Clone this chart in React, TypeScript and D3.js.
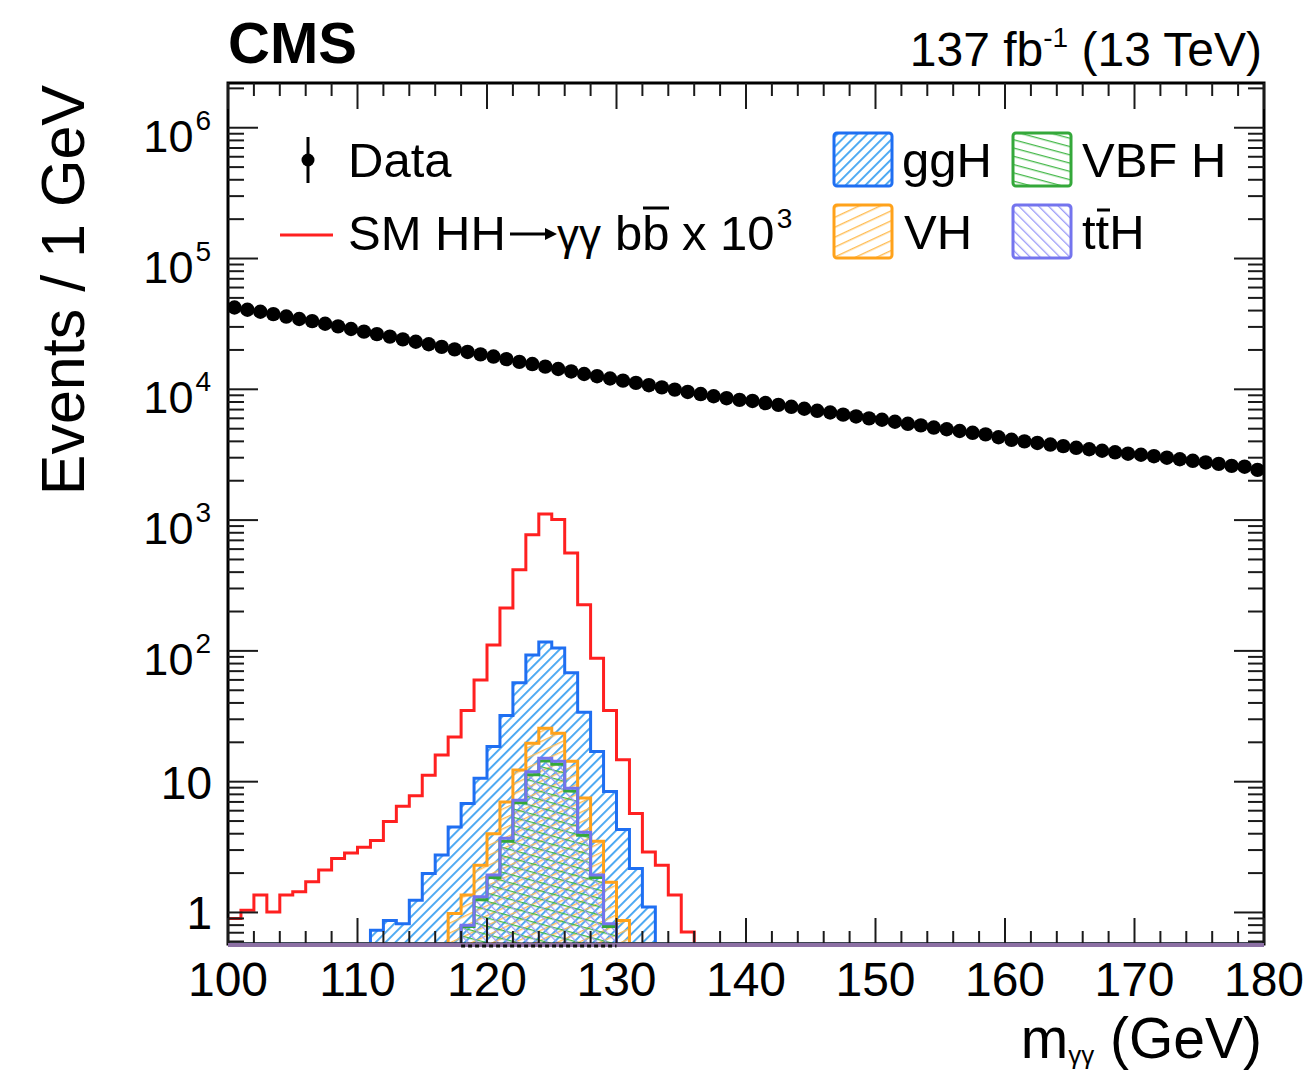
import React from "react";
import * as d3 from "d3";

// ---------- data ----------
const X_MIN = 100;
const X_MAX = 180;
const Y_MIN = 0.574;
const Y_MAX = 2.198e6;

const xTickLabels = ["100", "110", "120", "130", "140", "150", "160", "170", "180"];
const yMajorValues = [1, 10, 100, 1e3, 1e4, 1e5, 1e6];
const yMajorExp = ["", "", "2", "3", "4", "5", "6"];
const yMajorBase = ["1", "10", "10", "10", "10", "10", "10"];

// Data: events per 1 GeV bin, 100..179
const dataCounts = [
  42200, 40600, 39200, 37600, 36000, 34500, 33200, 31700, 30300, 28900,
  27600, 26400, 25300, 24100, 23100, 22100, 21100, 20200, 19300, 18500,
  17800, 17000, 16200, 15600, 14900, 14300, 13700, 13100, 12600, 12100,
  11650, 11200, 10750, 10350, 9950, 9550, 9200, 8850, 8550, 8300,
  8150, 7850, 7600, 7350, 7100, 6850, 6650, 6400, 6200, 6000,
  5850, 5650, 5450, 5300, 5100, 4950, 4800, 4650, 4520, 4300,
  4110, 4000, 3890, 3780, 3680, 3570, 3480, 3390, 3300, 3220,
  3160, 3080, 3000, 2920, 2840, 2760, 2690, 2600, 2560, 2420,
];

// SM HH -> gg bb x 10^3, first bin 100
const hhStart = 100;
const hhValues = [
  0.9, 1.04, 1.36, 1.01, 1.36, 1.44, 1.72, 2.11, 2.59, 2.85,
  3.15, 3.55, 4.95, 6.5, 7.8, 11.2, 16, 22, 35, 60,
  111, 213, 418, 774, 1115, 1010, 561, 225, 88, 35,
  14.7, 5.7, 2.9, 2.3, 1.36, 0.71,
];

const gghStart = 111;
const gghValues = [
  0.73, 0.87, 0.82, 1.24, 1.99, 2.75, 4.5, 6.8, 10.6, 18.6,
  32, 57, 93, 117, 105, 68, 34, 17, 8.4, 4.3, 2.17, 1.1,
];

const vhStart = 117;
const vhValues = [0.98, 1.36, 2.3, 4.0, 7.0, 12.3, 19.7, 25.6, 23.5, 14.3, 7.5, 3.5, 1.7, 0.87];

const vbfStart = 118;
const vbfValues = [0.78, 1.25, 1.85, 3.5, 6.9, 11.3, 14.4, 13.6, 8.5, 3.9, 1.85, 0.78];

const tthStart = 118;
const tthValues = [0.8, 1.32, 1.93, 3.7, 7.2, 11.9, 15.1, 14.3, 8.9, 4.1, 1.93, 0.82];

// ---------- helpers ----------
const NBINS = X_MAX - X_MIN;
function expand(start: number, vals: number[]): number[] {
  const arr = new Array(NBINS).fill(0);
  vals.forEach((v, i) => {
    arr[start - X_MIN + i] = v;
  });
  return arr;
}

const L = 228, R = 1264, T = 83, B = 944;
const FONT = "'Liberation Sans', Arial, Helvetica, sans-serif";

export default function App() {
  const x = d3.scaleLinear().domain([X_MIN, X_MAX]).range([L, R]);
  const y = d3.scaleLog().domain([Y_MIN, Y_MAX]).range([B, T]);

  const stepPts = (arr: number[]): [number, number][] => {
    const pts: [number, number][] = arr.map((v, i) => [X_MIN + i, v]);
    pts.push([X_MAX, arr[arr.length - 1]]);
    return pts;
  };
  const yc = (v: number) => y(Math.max(v, Y_MIN));
  const line = d3
    .line<[number, number]>()
    .x((d) => x(d[0]))
    .y((d) => yc(d[1]))
    .curve(d3.curveStepAfter);
  const area = d3
    .area<[number, number]>()
    .x((d) => x(d[0]))
    .y0(B)
    .y1((d) => yc(d[1]))
    .curve(d3.curveStepAfter);

  const hh = expand(hhStart, hhValues);
  const ggh = expand(gghStart, gghValues);
  const vh = expand(vhStart, vhValues);
  const vbf = expand(vbfStart, vbfValues);
  const tth = expand(tthStart, tthValues);

  const cols = {
    ggh: "#1f6ff2",
    gghHatch: "#46a6f2",
    vh: "#ffa21a",
    vhHatch: "#ffbd55",
    vbf: "#34a83a",
    vbfHatch: "#45b84a",
    tth: "#7474ee",
    tthHatch: "#9a9af8",
    hh: "#ff2020",
  };

  // ticks
  const xMajor = d3.range(X_MIN, X_MAX + 0.1, 10);
  const xMinor = d3.range(X_MIN, X_MAX + 0.1, 2).filter((v) => v % 10 !== 0);
  const yMinor: number[] = [];
  for (let e = -1; e <= 6; e++) {
    for (let k = 2; k <= 9; k++) {
      const v = k * Math.pow(10, e);
      if (v > Y_MIN && v < Y_MAX) yMinor.push(v);
    }
  }
  const tickCol = "#1a1a1a";

  return (
    <div style={{ position: "fixed", left: 0, top: 0 }}>
      <svg width={1306} height={1071} style={{ display: "block", background: "white" }} fontFamily={FONT}>
        <defs>
          <pattern id="pGGH" patternUnits="userSpaceOnUse" width={7} height={7} patternTransform="rotate(45)">
            <line x1={0} y1={0} x2={0} y2={7} stroke={cols.gghHatch} strokeWidth={3.8} />
          </pattern>
          <pattern id="pVH" patternUnits="userSpaceOnUse" width={9} height={9} patternTransform="rotate(-25)">
            <line x1={0} y1={0} x2={9} y2={0} stroke={cols.vhHatch} strokeWidth={2.8} />
          </pattern>
          <pattern id="pVBF" patternUnits="userSpaceOnUse" width={8} height={8} patternTransform="rotate(15)">
            <line x1={0} y1={0} x2={8} y2={0} stroke={cols.vbfHatch} strokeWidth={2.6} />
          </pattern>
          <pattern id="pTTH" patternUnits="userSpaceOnUse" width={7} height={7} patternTransform="rotate(-45)">
            <line x1={0} y1={0} x2={0} y2={7} stroke={cols.tthHatch} strokeWidth={2.6} />
          </pattern>
          <clipPath id="plotClip">
            <rect x={L} y={T} width={R - L} height={B - T + 6} />
          </clipPath>
        </defs>

        {/* histograms */}
        <g clipPath="url(#plotClip)">
          <path d={line(stepPts(hh)) || ""} fill="none" stroke={cols.hh} strokeWidth={3} />
          <path d={area(stepPts(ggh)) || ""} fill="url(#pGGH)" />
          <path d={line(stepPts(ggh)) || ""} fill="none" stroke={cols.ggh} strokeWidth={3} />
          <path d={area(stepPts(vh)) || ""} fill="url(#pVH)" />
          <path d={area(stepPts(vbf)) || ""} fill="url(#pVBF)" />
          <path d={area(stepPts(tth)) || ""} fill="url(#pTTH)" />
          <path d={line(stepPts(vh)) || ""} fill="none" stroke={cols.vh} strokeWidth={3} />
          <path d={line(stepPts(vbf)) || ""} fill="none" stroke={cols.vbf} strokeWidth={3} />
          <path d={line(stepPts(tth)) || ""} fill="none" stroke={cols.tth} strokeWidth={3} />
        </g>

        {/* frame */}
        <rect x={L} y={T} width={R - L} height={B - T} fill="none" stroke="#000" strokeWidth={3} />

        {/* x ticks */}
        {xMajor.map((v) => (
          <g key={"xM" + v}>
            <line x1={x(v)} x2={x(v)} y1={B} y2={B - 26} stroke={tickCol} strokeWidth={2} />
            <line x1={x(v)} x2={x(v)} y1={T} y2={T + 26} stroke={tickCol} strokeWidth={2} />
          </g>
        ))}
        {xMinor.map((v) => (
          <g key={"xm" + v}>
            <line x1={x(v)} x2={x(v)} y1={B} y2={B - 13} stroke={tickCol} strokeWidth={2} />
            <line x1={x(v)} x2={x(v)} y1={T} y2={T + 13} stroke={tickCol} strokeWidth={2} />
          </g>
        ))}
        {/* y ticks */}
        {yMajorValues.map((v) => (
          <g key={"yM" + v}>
            <line x1={L} x2={L + 30} y1={y(v)} y2={y(v)} stroke={tickCol} strokeWidth={2} />
            <line x1={R} x2={R - 30} y1={y(v)} y2={y(v)} stroke={tickCol} strokeWidth={2} />
          </g>
        ))}
        {yMinor.map((v) => (
          <g key={"ym" + v}>
            <line x1={L} x2={L + 16} y1={y(v)} y2={y(v)} stroke={tickCol} strokeWidth={2} />
            <line x1={R} x2={R - 16} y1={y(v)} y2={y(v)} stroke={tickCol} strokeWidth={2} />
          </g>
        ))}

        {/* bottom zero band */}
        <line x1={L} x2={R} y1={B + 1} y2={B + 1} stroke="#8c70a4" strokeWidth={4} />
        <line x1={x(118)} x2={x(130)} y1={B + 2} y2={B + 2} stroke="#111" strokeWidth={3} strokeDasharray="4 3" />

        {/* data points */}
        {dataCounts.map((v, i) => (
          <g key={"d" + i}>
            <line
              x1={x(X_MIN + i + 0.5)}
              x2={x(X_MIN + i + 0.5)}
              y1={y(v + Math.sqrt(v))}
              y2={y(v - Math.sqrt(v))}
              stroke="#000"
              strokeWidth={2}
            />
            <circle cx={x(X_MIN + i + 0.5)} cy={y(v)} r={7.2} fill="#000" />
          </g>
        ))}

        {/* x tick labels */}
        {xTickLabels.map((t, i) => (
          <text key={"xl" + t} x={x(xMajor[i])} y={996} fontSize={48} textAnchor="middle" fill="#000">
            {t}
          </text>
        ))}
        {/* y tick labels */}
        {yMajorValues.map((v, i) =>
          yMajorExp[i] === "" ? (
            <text key={"yl" + v} x={212} y={y(v) + 17} fontSize={46} textAnchor="end" fill="#000">
              {yMajorBase[i]}
            </text>
          ) : (
            <text key={"yl" + v} x={211} y={y(v) + 24} fontSize={45} textAnchor="end" fill="#000">
              <tspan>{yMajorBase[i]}</tspan>
              <tspan dx={2} dy={-22} fontSize={28}>
                {yMajorExp[i]}
              </tspan>
            </text>
          )
        )}

        {/* axis titles */}
        <text transform="translate(84,85) rotate(-90)" fontSize={61} textAnchor="end" fill="#000">
          Events / 1 GeV
        </text>
        <text x={1262} y={1058} fontSize={57} textAnchor="end" fill="#000">
          <tspan>m</tspan>
          <tspan fontSize={26} dy={6}>γγ</tspan>
          <tspan dy={-6}> (GeV)</tspan>
        </text>

        {/* header */}
        <text x={228} y={63} fontSize={58} fontWeight="bold" fill="#000">
          CMS
        </text>
        <text x={1262} y={66} fontSize={48} textAnchor="end" fill="#000">
          <tspan>137 fb</tspan>
          <tspan fontSize={28} dy={-19}>-1</tspan>
          <tspan dy={19}> (13 TeV)</tspan>
        </text>

        {/* legend left */}
        <line x1={308} x2={308} y1={137} y2={183} stroke="#000" strokeWidth={3} />
        <circle cx={308} cy={160} r={6.5} fill="#000" />
        <text x={348} y={177} fontSize={49} fill="#000">
          Data
        </text>
        <line x1={280} x2={333} y1={235} y2={235} stroke={cols.hh} strokeWidth={3} />
        <text y={250} fontSize={49} fill="#000">
          <tspan x={348}>SM HH</tspan>
          <tspan x={557} fontSize={44}>γγ</tspan>
          <tspan x={615}>bb</tspan>
          <tspan x={682}>x 10</tspan>
          <tspan dx={2} dy={-22} fontSize={28}>3</tspan>
        </text>
        <line x1={510} x2={550} y1={234} y2={234} stroke="#000" strokeWidth={3} />
        <path d="M557,234 L545,228 L545,240 Z" fill="#000" />
        <line x1={643} x2={669} y1={208} y2={208} stroke="#000" strokeWidth={3} />

        {/* legend right */}
        <rect x={834} y={133} width={58} height={53} rx={3} fill="url(#pGGH)" stroke={cols.ggh} strokeWidth={3} />
        <text x={902} y={177} fontSize={49} fill="#000">ggH</text>
        <rect x={1013} y={133} width={58} height={53} rx={3} fill="url(#pVBF)" stroke={cols.vbf} strokeWidth={3} />
        <text x={1082} y={177} fontSize={49} fill="#000">VBF H</text>
        <rect x={834} y={205} width={58} height={53} rx={3} fill="url(#pVH)" stroke={cols.vh} strokeWidth={3} />
        <text x={904} y={249} fontSize={49} fill="#000">VH</text>
        <rect x={1013} y={205} width={58} height={53} rx={3} fill="url(#pTTH)" stroke={cols.tth} strokeWidth={3} />
        <text x={1082} y={249} fontSize={49} fill="#000">ttH</text>
        <line x1={1097} x2={1110} y1={210} y2={210} stroke="#000" strokeWidth={3} />
      </svg>
    </div>
  );
}
